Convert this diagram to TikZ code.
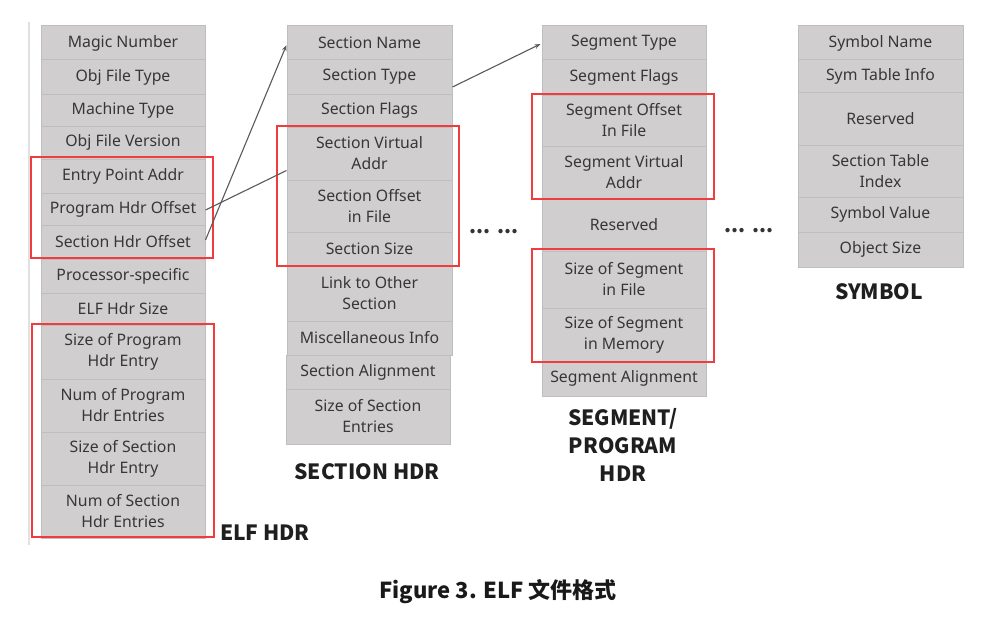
\documentclass[tikz,border=0pt]{standalone}
\usepackage{fontspec}
\setmainfont{Noto Sans}
\newfontfamily\capfont{Noto Sans CJK SC}
\usetikzlibrary{arrows.meta,calc}
\definecolor{cellfill}{RGB}{208,206,206}
\definecolor{cellline}{RGB}{190,190,190}
\definecolor{celltext}{RGB}{55,55,55}
\definecolor{hlred}{RGB}{240,60,60}
\definecolor{arrowgray}{RGB}{90,90,90}
\definecolor{edgegray}{RGB}{225,225,225}
\tikzset{
  cellbox/.style={draw=cellline, fill=cellfill, line width=1pt, text=celltext,
    font=\fontsize{15.8}{21}\selectfont, align=center, inner sep=0pt},
  redbox/.style={draw=hlred, line width=1.3pt},
  linkarrow/.style={draw=arrowgray, line width=1.1pt, -{Stealth[length=6pt,width=4.5pt]}},
  linkline/.style={draw=arrowgray, line width=1.1pt},
  tablabel/.style={font=\capfont\bfseries\fontsize{21}{28}\selectfont, text=black!88, align=center, inner sep=0pt},
  dotlabel/.style={font=\capfont\bfseries\fontsize{20}{22}\selectfont, text=black!80, inner sep=0pt},
}
% \cellnode{name}{x1}{y1}{x2}{y2}{text}
\newcommand{\cellnode}[6]{%
  \pgfmathsetmacro{\cw}{#4-#2}\pgfmathsetmacro{\ch}{#5-#3}%
  \node[cellbox, minimum width=\cw pt, minimum height=\ch pt] (#1) at ({(#2+#4)/2},{(#3+#5)/2+1}) {#6};}
\begin{document}
\begin{tikzpicture}[x=1pt,y=-1pt]
\useasboundingbox (0,0) rectangle (988,626);
\fill[white] (0,0) rectangle (988,626);
\coordinate (lt) at (29,22);
\coordinate (lb) at (29,545);
\draw[edgegray, line width=1.2pt] (lt) -- (lb);

% ELF HDR
\cellnode{e1}{41}{25}{205}{59}{Magic Number}
\cellnode{e2}{41}{59}{205}{93}{Obj File Type}
\cellnode{e3}{41}{93}{205}{125}{Machine Type}
\cellnode{e4}{41}{125}{205}{158}{Obj File Version}
\cellnode{e5}{41}{158}{205}{192}{Entry Point Addr}
\cellnode{e6}{41}{192}{205}{224}{Program Hdr Offset}
\cellnode{e7}{41}{224}{205}{258}{Section Hdr Offset}
\cellnode{e8}{41}{258}{205}{292}{Processor-specific}
\cellnode{e9}{41}{292}{205}{324}{ELF Hdr Size}
\cellnode{e10}{41}{324}{205}{378}{Size of Program\\Hdr Entry}
\cellnode{e11}{41}{378}{205}{431}{Num of Program\\Hdr Entries}
\cellnode{e12}{41}{431}{205}{484}{Size of Section\\Hdr Entry}
\cellnode{e13}{41}{484}{205}{537}{Num of Section\\Hdr Entries}

% SECTION HDR
\cellnode{s1}{287}{25}{452}{59}{Section Name}
\cellnode{s2}{287}{59}{452}{93}{Section Type}
\cellnode{s3}{287}{93}{452}{126}{Section Flags}
\cellnode{s4}{287}{126}{452}{179}{Section Virtual\\Addr}
\cellnode{s5}{287}{179}{452}{231}{Section Offset\\in File}
\cellnode{s6}{287}{231}{452}{265}{Section Size}
\cellnode{s7}{287}{265}{452}{320}{Link to Other\\Section}
\cellnode{s8}{287}{320}{452}{354}{Miscellaneous Info}
\cellnode{s9}{286}{354}{450}{388}{Section Alignment}
\cellnode{s10}{286}{388}{450}{443}{Size of Section\\Entries}

% SEGMENT HDR
\cellnode{g1}{542}{25}{706}{59}{Segment Type}
\cellnode{g2}{542}{59}{706}{94}{Segment Flags}
\cellnode{g3}{542}{94}{706}{145}{Segment Offset\\In File}
\cellnode{g4}{542}{145}{706}{198}{Segment Virtual\\Addr}
\cellnode{g5}{542}{198}{706}{250}{Reserved}
\cellnode{g6}{542}{250}{706}{307}{Size of Segment\\in File}
\cellnode{g7}{542}{307}{706}{360}{Size of Segment\\in Memory}
\cellnode{g8}{542}{360}{706}{395}{Segment Alignment}

% SYMBOL
\cellnode{y1}{798}{25}{963}{59}{Symbol Name}
\cellnode{y2}{798}{59}{963}{91}{Sym Table Info}
\cellnode{y3}{798}{91}{963}{144}{Reserved}
\cellnode{y4}{798}{144}{963}{196}{Section Table\\Index}
\cellnode{y5}{798}{196}{963}{231}{Symbol Value}
\cellnode{y6}{798}{231}{963}{266}{Object Size}

% red highlight boxes
\draw[redbox] (31,157) rectangle (213,258);
\draw[redbox] (32,324) rectangle (214,537);
\draw[redbox] (277,126) rectangle (459,266);
\draw[redbox] (532,94) rectangle (714,199);
\draw[redbox] (532,249) rectangle (714,362);

% connectors
\coordinate (e7out) at ($(e7.east)+(0,-2)$);
\coordinate (s1in) at ($(s1.west)+(0,2)$);
\coordinate (e6out) at ($(e6.east)+(0,1)$);
\coordinate (s4in) at ($(s4.west)+(0,17)$);
\coordinate (s2out) at ($(s2.east)+(0,10)$);
\coordinate (g1in) at ($(g1.west)+(-1,1)$);
\draw[linkarrow] (e7out) -- (s1in);
\draw[linkline] (e6out) -- (s4in);
\draw[linkarrow] (s2out) -- (g1in);

% labels
\node[tablabel] (lelf) at (265,533) {ELF HDR};
\node[tablabel] (lsec) at (367,472) {SECTION HDR};
\node[tablabel] (lseg) at (623,445) {SEGMENT/\\PROGRAM\\HDR};
\node[tablabel] (lsym) at (879,292) {SYMBOL};
\node[dotlabel] (dots1) at (494,232) {... ...};
\node[dotlabel] (dots2) at (749,231) {... ...};

% caption
\node[font=\capfont\bfseries\fontsize{22}{26}\selectfont, text=black!90, inner sep=0pt] (cap) at (498,592) {Figure 3. ELF 文件格式};
\end{tikzpicture}
\end{document}
